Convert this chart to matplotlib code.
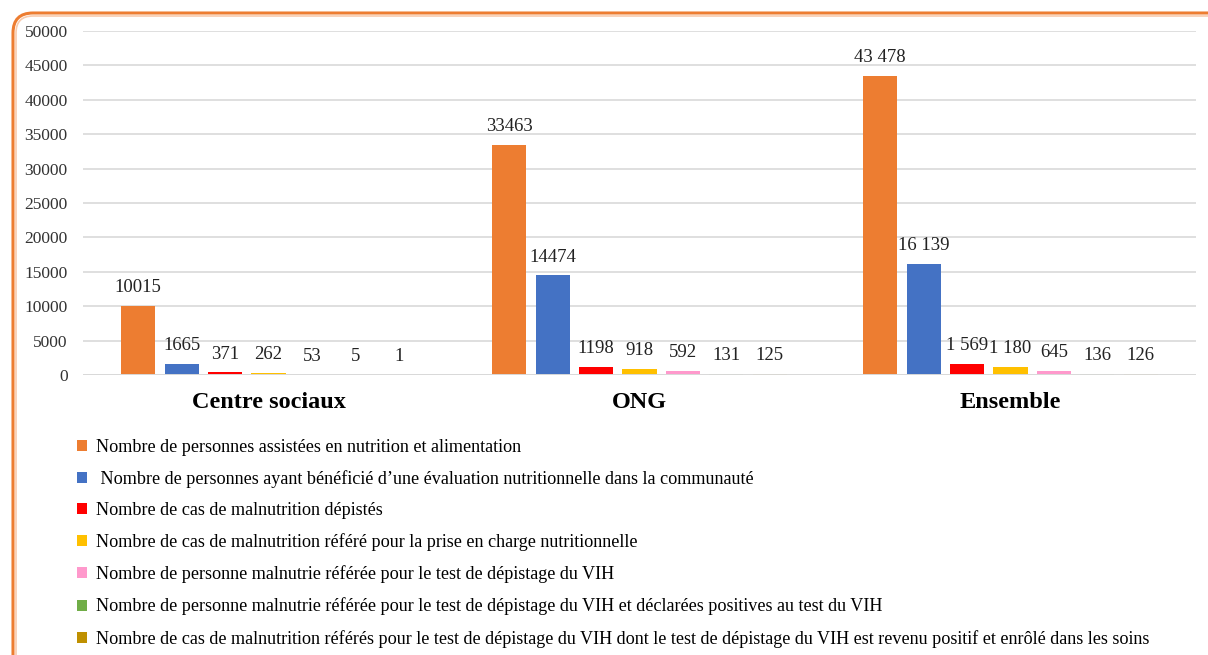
import matplotlib
matplotlib.use("Agg")
import matplotlib.pyplot as plt
from matplotlib.patches import FancyBboxPatch
from matplotlib.transforms import IdentityTransform
import numpy as np

plt.rcParams['font.family'] = ['Liberation Serif', 'DejaVu Serif']

categories = ["Centre sociaux", "ONG", "Ensemble"]
series_names = [
    "Nombre de personnes assistées en nutrition et alimentation",
    " Nombre de personnes ayant bénéficié d’une évaluation nutritionnelle dans la communauté",
    "Nombre de cas de malnutrition dépistés",
    "Nombre de cas de malnutrition référé pour la prise en charge nutritionnelle",
    "Nombre de personne malnutrie référée pour le test de dépistage du VIH",
    "Nombre de personne malnutrie référée pour le test de dépistage du VIH et déclarées positives au test du VIH",
    "Nombre de cas de malnutrition référés pour le test de dépistage du VIH dont le test de dépistage du VIH est revenu positif et enrôlé dans les soins",
]
colors = ["#ED7D31", "#4472C4", "#FF0000", "#FFC000", "#FF99CC", "#70AD47", "#BF9000"]

centre_values = [10015, 1665, 371, 262, 53, 5, 1]
ong_values = [33463, 14474, 1198, 918, 592, 131, 125]
ensemble_values = [43478, 16139, 1569, 1180, 645, 136, 126]

centre_labels = ["10015", "1665", "371", "262", "53", "5", "1"]
ong_labels = ["33463", "14474", "1198", "918", "592", "131", "125"]
ensemble_labels = ["43 478", "16 139", "1 569", "1 180", "645", "136", "126"]

yticks = [0, 5000, 10000, 15000, 20000, 25000, 30000, 35000, 40000, 45000, 50000]

W, H = 1208, 655
fig = plt.figure(figsize=(W / 100, H / 100), dpi=100)
ax = fig.add_axes([83 / W, 1 - 375 / H, (1196 - 83) / W, (375 - 31) / H])

values = np.array([centre_values, ong_values, ensemble_values])
labels = [centre_labels, ong_labels, ensemble_labels]
x = np.arange(len(categories))
step = 0.117
width = 0.092
handles = []
for j in range(len(series_names)):
    pos = x + (j - 3) * step
    b = ax.bar(pos, values[:, j], width=width, color=colors[j], label=series_names[j], zorder=3)
    handles.append(b)
    for i in range(len(categories)):
        ax.annotate(labels[i][j], (pos[i], values[i, j]), xytext=(0, 7), textcoords="offset points",
                    ha="center", va="bottom", fontsize=13.5, color="#222222")

ax.set_xlim(-0.5, 2.5)
ax.set_ylim(0, 50000)
ax.set_yticks(yticks)
ax.set_yticklabels([str(v) for v in yticks], fontsize=12.5, color="#333333")
ax.set_xticks(x)
ax.set_xticklabels(categories, fontsize=17.5, fontweight="bold")
ax.tick_params(axis="both", length=0)
ax.tick_params(axis="y", pad=11)
ax.tick_params(axis="x", pad=12)
ax.grid(axis="y", color="#D9D9D9", linewidth=1.2, zorder=0)
ax.axhline(0, color="#D9D9D9", linewidth=1.4, zorder=4)
for s in ax.spines.values():
    s.set_visible(False)

leg = fig.legend(handles=handles, loc="upper left", bbox_to_anchor=(77 / W, 1 - 439 / H),
                 frameon=False, fontsize=13.1, handlelength=0.55, handleheight=0.55,
                 handletextpad=0.5, labelspacing=0.78, borderaxespad=0, borderpad=0)

border = FancyBboxPatch((13, -50), 1300, (H - 13) + 50,
                        boxstyle="round,pad=0,rounding_size=20", transform=IdentityTransform(),
                        fill=False, edgecolor="#ED7D31", linewidth=2.2, zorder=10)
fig.patches.append(border)
border2 = FancyBboxPatch((16, -50), 1300, (H - 16) + 50,
                         boxstyle="round,pad=0,rounding_size=17", transform=IdentityTransform(),
                         fill=False, edgecolor="#F8CBAD", linewidth=1.2, zorder=10)
fig.patches.append(border2)

fig.savefig("out.png", dpi=100)
